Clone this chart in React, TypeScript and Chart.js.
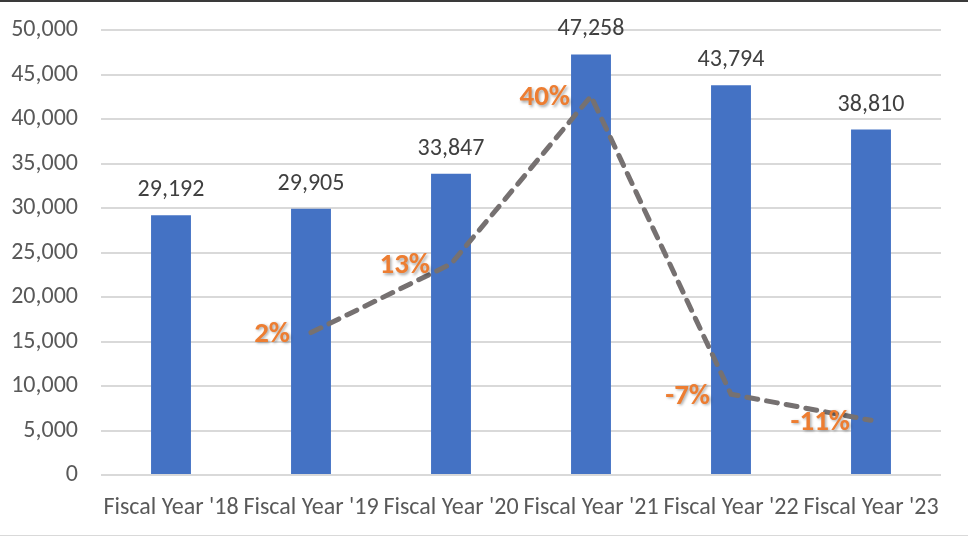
import React, { useEffect, useRef } from "react";
import { Chart, registerables } from "chart.js";

Chart.register(...registerables);

const categories = ["Fiscal Year '18", "Fiscal Year '19", "Fiscal Year '20", "Fiscal Year '21", "Fiscal Year '22", "Fiscal Year '23"];
const revenue = [29192, 29905, 33847, 47258, 43794, 38810];
const growth = [null, 0.024, 0.132, 0.396, -0.073, -0.114];
const growthLabels = ["", "2%", "13%", "40%", "-7%", "-11%"];
const yTicks = [0, 5000, 10000, 15000, 20000, 25000, 30000, 35000, 40000, 45000, 50000];

const FONT = "Carlito, Lato, 'Noto Sans', sans-serif";

const labelPlugin = {
  id: "labels",
  afterDatasetsDraw(chart: any) {
    const ctx = chart.ctx;
    const barMeta = chart.getDatasetMeta(0);
    ctx.save();
    ctx.font = `24px ${FONT}`;
    ctx.fillStyle = "#404040";
    ctx.textAlign = "center";
    ctx.textBaseline = "middle";
    barMeta.data.forEach((el: any, i: number) => {
      ctx.fillText(revenue[i].toLocaleString("en-US"), el.x, el.y - 25);
    });
    const lineMeta = chart.getDatasetMeta(1);
    ctx.font = `bold 29px ${FONT}`;
    ctx.fillStyle = "#ED7D31";
    ctx.textAlign = "right";
    ctx.shadowColor = "rgba(0,0,0,0.35)";
    ctx.shadowBlur = 3;
    ctx.shadowOffsetX = 1.5;
    ctx.shadowOffsetY = 1.5;
    lineMeta.data.forEach((el: any, i: number) => {
      if (growth[i] === null) return;
      ctx.fillText(growthLabels[i], el.x - 21, el.y + 2);
    });
    ctx.restore();
  },
};

export default function App() {
  const ref = useRef<HTMLCanvasElement | null>(null);
  useEffect(() => {
    document.body.style.margin = "0";
    if (!ref.current) return;
    const chart = new Chart(ref.current, {
      type: "bar",
      data: {
        labels: categories,
        datasets: [
          {
            type: "bar",
            data: revenue,
            backgroundColor: "#4472C4",
            categoryPercentage: 1,
            barPercentage: 0.285,
            yAxisID: "y",
            order: 2,
          },
          {
            type: "line",
            data: growth as any,
            borderColor: "#767171",
            borderWidth: 5,
            borderDash: [11, 9],
            borderCapStyle: "round",
            pointRadius: 0,
            fill: false,
            tension: 0,
            yAxisID: "y1",
            order: 1,
          } as any,
        ],
      },
      options: {
        animation: false,
        responsive: false,
        layout: { padding: { top: 30, right: 27, left: 0, bottom: 0 } },
        plugins: { legend: { display: false }, tooltip: { enabled: false } },
        scales: {
          x: {
            grid: { display: false },
            border: { display: false },
            ticks: { color: "#595959", font: { size: 24, family: FONT }, padding: 11, maxRotation: 0, autoSkip: false },
            afterFit: (s: any) => { s.height = 62; },
          },
          y: {
            min: 0,
            max: 50000,
            afterBuildTicks: (s: any) => { s.ticks = yTicks.map((v) => ({ value: v })); },
            grid: { color: "#d9d9d9", lineWidth: 2, drawTicks: false },
            border: { display: false },
            ticks: {
              color: "#595959",
              font: { size: 24, family: FONT },
              padding: 23,
              callback: (v: any) => Number(v).toLocaleString("en-US"),
            },
            afterFit: (s: any) => { s.width = 101; s.paddingTop = 0; s.paddingBottom = 0; },
          },
          y1: { min: -0.2, max: 0.5, display: false },
        },
      },
      plugins: [labelPlugin],
    });
    return () => chart.destroy();
  }, []);
  return (
    <div style={{ position: "relative", width: 968, height: 537 }}>
      <canvas ref={ref} width={968} height={537} style={{ display: "block" }} />
      <div style={{ position: "absolute", left: 0, top: 0, width: 968, height: 2, background: "#3a3a3a" }} />
      <div style={{ position: "absolute", left: 0, top: 535, width: 968, height: 1, background: "#d9d9d9" }} />
    </div>
  );
}
